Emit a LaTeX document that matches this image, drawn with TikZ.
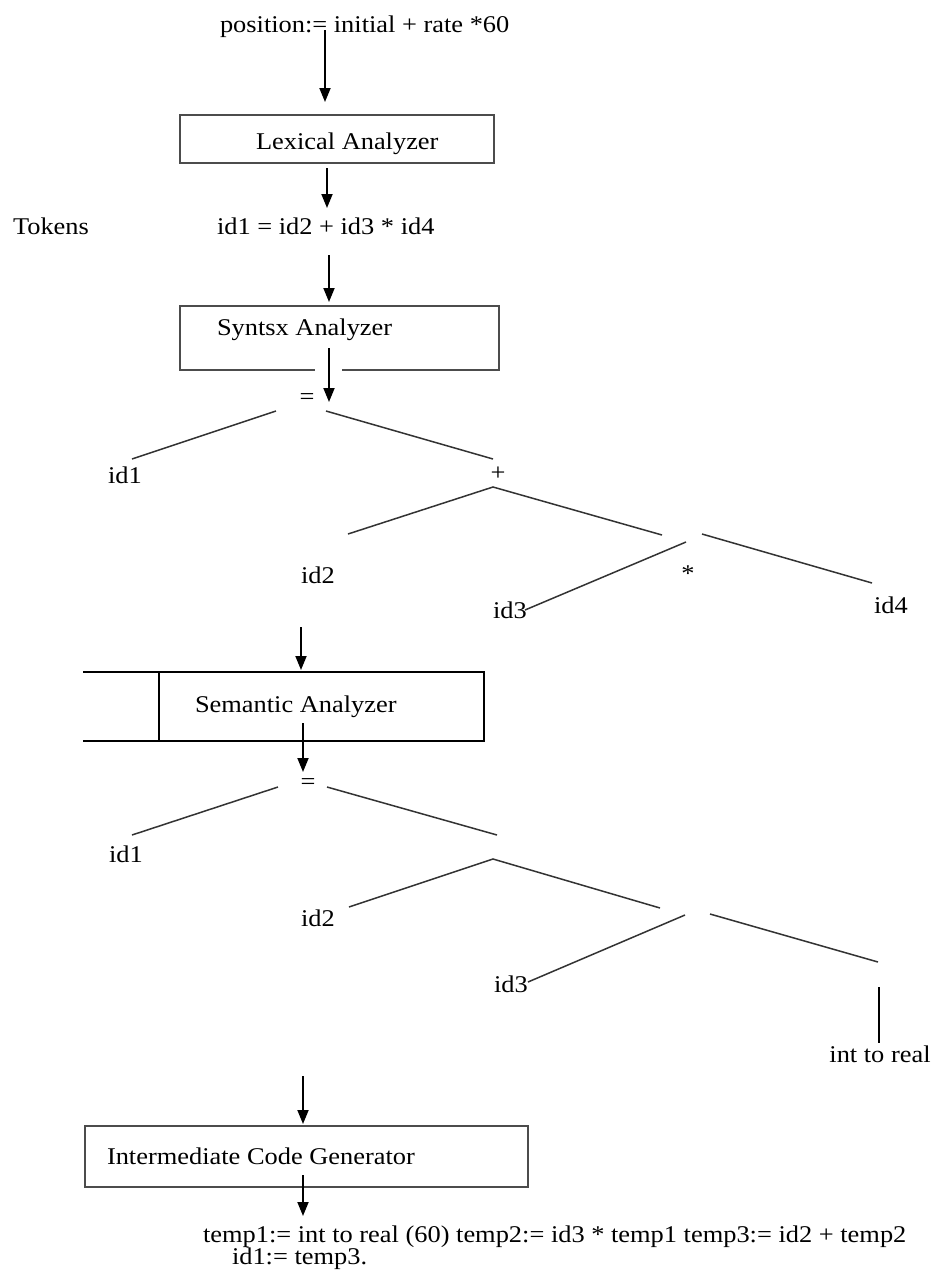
\documentclass[tikz,border=0pt]{standalone}
\usepackage{fontspec}
\setmainfont{Liberation Serif}[FakeStretch=1.1]
\usetikzlibrary{arrows.meta}
\begin{document}
\begin{tikzpicture}[x=1pt,y=-1pt,
  lbl/.style={inner sep=0pt, outer sep=0pt, font=\fontsize{24}{28}\selectfont},
  arr/.style={draw=black, line width=1.8pt, -{Triangle[width=11pt,length=14pt]}},
  treeline/.style={draw=black!80, line width=1.5pt},
  stagebox/.style={draw=black!70, line width=1.4pt, inner sep=0pt}]
\fill[white] (0,0) rectangle (935,1270);
\useasboundingbox (0,0) rectangle (935,1270);

% ---- texts ----
\node[lbl, anchor=base west] (src) at (220,32) {position:= initial + rate *60};
\node[stagebox, minimum width=314pt, minimum height=48pt] (lexbox) at (337,139) {};
\node[lbl, anchor=base west] (lextxt) at (256,149) {Lexical Analyzer};
\node[lbl, anchor=base west] (tok) at (13,234) {Tokens};
\node[lbl, anchor=base west] (tokexpr) at (217,234) {id1 = id2 + id3 * id4};
\node[stagebox, minimum width=319pt, minimum height=64pt] (synbox) at (339.5,338) {};
\node[lbl, anchor=base west] (syntxt) at (217,335) {Syntsx Analyzer};
\draw[white, line width=3pt] (315,370) -- (342,370);

% ---- tree 1 ----
\node[lbl, anchor=base] (ta) at (307,404) {=};
\node[lbl, anchor=base] (tid1) at (125,483) {id1};
\node[lbl, anchor=base] (tplus) at (498,480) {+};
\node[lbl, anchor=base] (tid2) at (318,583) {id2};
\node[lbl, anchor=base] (tstar) at (688,581) {*};
\node[lbl, anchor=base] (tid3) at (510,618) {id3};
\node[lbl, anchor=base] (tid4) at (891,613) {id4};
\coordinate (t1a) at (276,411); \coordinate (t1b) at (132,459);
\coordinate (t1c) at (326,411); \coordinate (t1d) at (493,459);
\coordinate (t1e) at (493,487); \coordinate (t1f) at (348,534);
\coordinate (t1g) at (662,535);
\coordinate (t1h) at (686,542); \coordinate (t1i) at (525,610);
\coordinate (t1j) at (702,534); \coordinate (t1k) at (872,583);
\draw[treeline] (t1a) -- (t1b);
\draw[treeline] (t1c) -- (t1d);
\draw[treeline] (t1f) -- (t1e) -- (t1g);
\draw[treeline] (t1h) -- (t1i);
\draw[treeline] (t1j) -- (t1k);

% ---- semantic box ----
\coordinate (sb1) at (83,672); \coordinate (sb2) at (484,672);
\coordinate (sb3) at (484,741); \coordinate (sb4) at (83,741);
\coordinate (sb5) at (159,672); \coordinate (sb6) at (159,741);
\draw[black, line width=2.4pt] (sb1) -- (sb2) -- (sb3) -- (sb4);
\draw[black, line width=2pt] (sb5) -- (sb6);
\node[lbl, anchor=base west] (semtxt) at (195,712) {Semantic Analyzer};

% ---- tree 2 ----
\node[lbl, anchor=base] (ua) at (308,789) {=};
\node[lbl, anchor=base] (uid1) at (126,862) {id1};
\node[lbl, anchor=base] (uid2) at (318,926) {id2};
\node[lbl, anchor=base] (uid3) at (511,992) {id3};
\node[lbl, anchor=base] (uitr) at (880,1062) {int to real};
\coordinate (u1a) at (278,787); \coordinate (u1b) at (132,835);
\coordinate (u1c) at (327,787); \coordinate (u1d) at (497,835);
\coordinate (u2a) at (493,859); \coordinate (u2b) at (349,907);
\coordinate (u2d) at (660,908);
\coordinate (u3a) at (685,915); \coordinate (u3b) at (528,982);
\coordinate (u3c) at (710,914); \coordinate (u3d) at (878,962);
\coordinate (u4a) at (879,987); \coordinate (u4b) at (879,1043);
\draw[treeline] (u1a) -- (u1b);
\draw[treeline] (u1c) -- (u1d);
\draw[treeline] (u2b) -- (u2a) -- (u2d);
\draw[treeline] (u3a) -- (u3b);
\draw[treeline] (u3c) -- (u3d);
\draw[black, line width=2.2pt] (u4a) -- (u4b);

% ---- intermediate ----
\node[stagebox, minimum width=443pt, minimum height=61pt] (icgbox) at (306.5,1156.5) {};
\node[lbl, anchor=base west] (icgtxt) at (107,1164) {Intermediate Code Generator};
\node[lbl, anchor=base west] (code1) at (203,1242) {temp1:= int to real (60) temp2:= id3 * temp1 temp3:= id2 + temp2};
\node[lbl, anchor=base west] (code2) at (232,1264) {id1:= temp3.};

% ---- arrows ----
\coordinate (a1s) at (325,30);   \coordinate (a1e) at (325,102);
\coordinate (a2s) at (327,168);  \coordinate (a2e) at (327,208);
\coordinate (a3s) at (329,255);  \coordinate (a3e) at (329,302);
\coordinate (a4s) at (329,348);  \coordinate (a4e) at (329,402);
\coordinate (a5s) at (301,627);  \coordinate (a5e) at (301,670);
\coordinate (a6s) at (303,723);  \coordinate (a6e) at (303,772);
\coordinate (a7s) at (303,1076); \coordinate (a7e) at (303,1124);
\coordinate (a8s) at (303,1175); \coordinate (a8e) at (303,1216);
\draw[arr] (a1s) -- (a1e);
\draw[arr] (a2s) -- (a2e);
\draw[arr] (a3s) -- (a3e);
\draw[arr] (a4s) -- (a4e);
\draw[arr] (a5s) -- (a5e);
\draw[arr] (a6s) -- (a6e);
\draw[arr] (a7s) -- (a7e);
\draw[arr] (a8s) -- (a8e);
\end{tikzpicture}
\end{document}
